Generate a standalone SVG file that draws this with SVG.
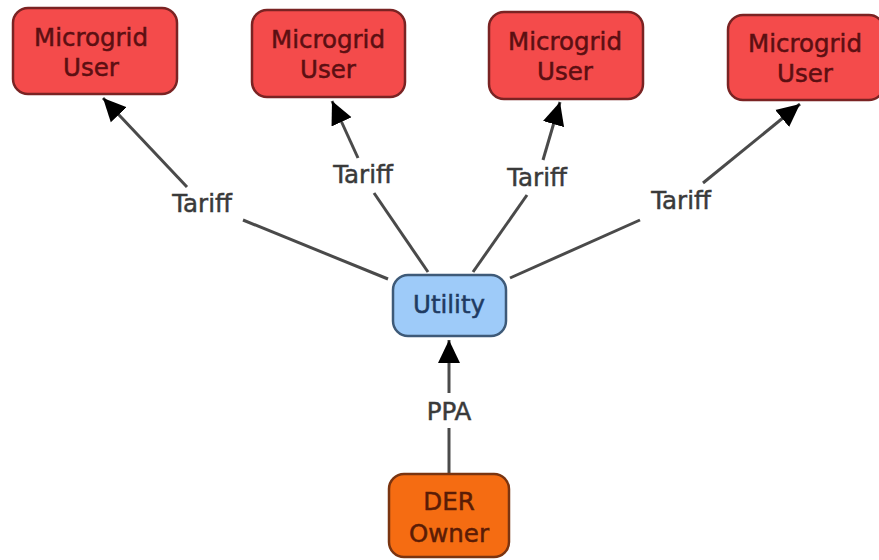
<svg xmlns="http://www.w3.org/2000/svg" width="879" height="560" viewBox="0 0 879 560">
<style>
.user rect{fill:#f44b4b;stroke:#7a2323;stroke-width:2.5}
.user text{fill:#5c0f12;stroke:#5c0f12}
.util rect{fill:#9ecbf9;stroke:#3e5a78;stroke-width:2.5}
.util text{fill:#1f3b63;stroke:#1f3b63}
.der rect{fill:#f56c12;stroke:#7a3410;stroke-width:2.5}
.der text{fill:#5a1c06;stroke:#5a1c06}
text{font-family:"DejaVu Sans","Verdana",sans-serif;font-size:24.5px;text-anchor:middle;stroke-width:0.5}
.lbl{fill:#3a3a3a;stroke:#3a3a3a}
.conn line{stroke:#4a4a4a;stroke-width:3;fill:none}
</style>
<defs>
<marker id="ah" markerUnits="userSpaceOnUse" markerWidth="26" markerHeight="24" refX="23" refY="12" orient="auto">
<path d="M0,1 L23,12 L0,23 Z" fill="#000"/>
</marker>
</defs>
<g id="connectors" class="conn">
<line x1="187" y1="187" x2="103" y2="98" marker-end="url(#ah)"/>
<line x1="243" y1="220" x2="388" y2="279"/>
<line x1="358" y1="158" x2="332" y2="101" marker-end="url(#ah)"/>
<line x1="374" y1="193" x2="428" y2="272"/>
<line x1="543" y1="160" x2="560" y2="102" marker-end="url(#ah)"/>
<line x1="527" y1="195" x2="473" y2="272"/>
<line x1="703" y1="183" x2="800" y2="104" marker-end="url(#ah)"/>
<line x1="640" y1="220" x2="510" y2="278"/>
<line x1="449" y1="393" x2="449" y2="340" marker-end="url(#ah)"/>
<line x1="449" y1="428" x2="449" y2="474"/>
<text class="lbl" x="202" y="212">Tariff</text>
<text class="lbl" x="363" y="183">Tariff</text>
<text class="lbl" x="537" y="186">Tariff</text>
<text class="lbl" x="681" y="209">Tariff</text>
<text class="lbl" x="449" y="420">PPA</text>
</g>
<g id="user1" class="user">
<rect x="13" y="8" width="164" height="86" rx="15"/>
<text x="91" y="46">Microgrid</text>
<text x="91" y="76">User</text>
</g>
<g id="user2" class="user">
<rect x="252" y="10" width="153" height="87" rx="15"/>
<text x="328" y="48">Microgrid</text>
<text x="328" y="78">User</text>
</g>
<g id="user3" class="user">
<rect x="489" y="12" width="154" height="87" rx="15"/>
<text x="565" y="50">Microgrid</text>
<text x="565" y="80">User</text>
</g>
<g id="user4" class="user">
<rect x="728" y="15" width="156" height="85" rx="15"/>
<text x="805" y="52">Microgrid</text>
<text x="805" y="82">User</text>
</g>
<g id="utility" class="util">
<rect x="393" y="275" width="113" height="61" rx="15"/>
<text x="449" y="313">Utility</text>
</g>
<g id="der" class="der">
<rect x="389" y="474" width="120" height="83" rx="15"/>
<text x="449" y="510">DER</text>
<text x="449" y="542">Owner</text>
</g>
</svg>
